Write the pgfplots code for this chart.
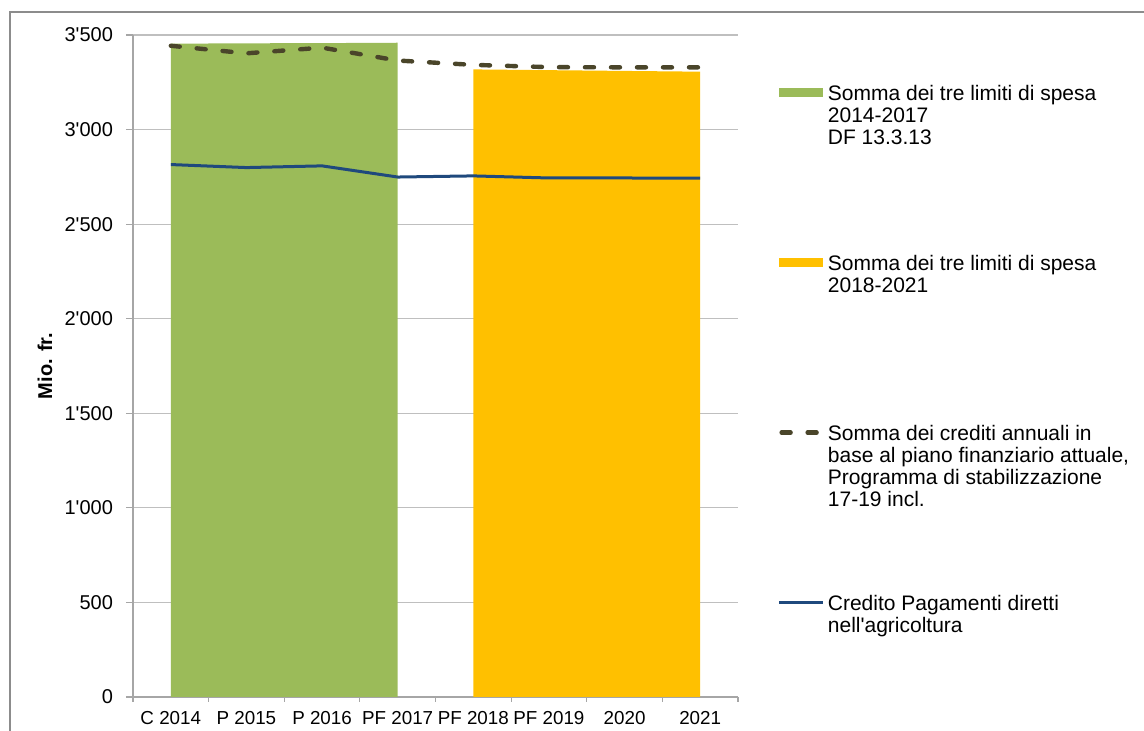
\documentclass[border=0pt]{standalone}
\usepackage{fontspec}
\setmainfont{Liberation Sans}[Ligatures=TeXOff]
\usepackage{pgfplots}
\pgfplotsset{compat=1.18}
\definecolor{cgreen}{HTML}{9BBB59}
\definecolor{cyellow}{HTML}{FFC000}
\definecolor{cdash}{HTML}{4A452A}
\definecolor{cblue}{HTML}{1F497D}
\definecolor{cgrid}{HTML}{BFBFBF}
\definecolor{caxis}{HTML}{A6A6A6}
\definecolor{cborder}{HTML}{8C8C8C}
\newcommand{\legtext}[1]{\parbox[t]{170pt}{#1}\rule[-77pt]{0pt}{85pt}}
\begin{document}
\fontsize{10}{11.5}\selectfont
\begin{tikzpicture}[x=1pt,y=1pt]
\useasboundingbox (0,0) rectangle (572,365.5);
\draw[cborder, line width=0.6pt] (5,-5) -- (5,359.5) -- (580,359.5);
\begin{axis}[
  at={(66.5pt,17pt)}, anchor=south west, scale only axis,
  width=302.5pt, height=331pt,
  xmin=-0.5, xmax=7.5, ymin=0, ymax=3500,
  axis lines=left, axis line style={-, draw=caxis, line width=0.6pt},
  ytick={0,500,...,3500},
  yticklabels={0,500,1'000,1'500,2'000,2'500,3'000,3'500},
  xtick={0,...,7},
  xticklabels={C 2014,P 2015,P 2016,PF 2017,PF 2018,PF 2019,2020,2021},
  minor xtick={-0.5,0.5,...,7.5},
  major x tick style={draw=none},
  tick style={draw=caxis, line width=0.6pt},
  tick align=outside,
  major tick length=3.5pt, minor tick length=2.5pt,
  ymajorgrids, grid style={cgrid, line width=0.6pt},
  ylabel={\bfseries Mio. fr.},
  ylabel style={at={(axis description cs:-0.1455,0.5)}, anchor=center},
  yticklabel style={font=\fontsize{10}{12}\selectfont, xshift=-3pt},
  xticklabel style={font=\fontsize{9.4}{12}\selectfont},
  legend style={at={(1.066,0.925)}, anchor=north west, draw=none, fill=none,
    inner sep=0pt, outer sep=0pt, row sep=0pt, column sep=1.5pt,
    nodes={inner sep=0pt, text depth=, font=\fontsize{10.5}{11}\selectfont}},
  legend cell align=left,
]
\addplot[draw=none, fill=cgreen,
  legend image code/.code={\fill (0pt,36.25pt) rectangle (22pt,40.75pt);}]
  coordinates {(0,3454)(1,3456)(2,3457)(3,3459)} \closedcycle;
\addlegendentry{\legtext{Somma dei tre limiti di spesa\\2014-2017\\DF 13.3.13}}
\addplot[draw=none, fill=cyellow,
  legend image code/.code={\fill (0pt,36.25pt) rectangle (22pt,40.75pt);}]
  coordinates {(4,3318)(5,3314)(6,3310)(7,3306)} \closedcycle;
\addlegendentry{\legtext{Somma dei tre limiti di spesa\\2018-2021}}
\addplot[cdash, line width=2.2pt, line cap=round, dash pattern=on 4.5pt off 8.5pt,
  legend image code/.code={\draw (1.1pt,38.5pt) -- (20.9pt,38.5pt);}]
  coordinates {(0,3443)(1,3403)(2,3433)(3,3365)(4,3342)(5,3330)(6,3329)(7,3329)};
\addlegendentry{\legtext{Somma dei crediti annuali in\\base al piano finanziario attuale,\\Programma di stabilizzazione\\17-19 incl.}}
\addplot[cblue, line width=1.5pt,
  legend image code/.code={\draw (0pt,38.5pt) -- (22pt,38.5pt);}]
  coordinates {(0,2815)(1,2799)(2,2808)(3,2749)(4,2755)(5,2744)(6,2744)(7,2743)};
\addlegendentry{\legtext{Credito Pagamenti diretti\\nell'agricoltura}}
\end{axis}
\end{tikzpicture}
\end{document}
